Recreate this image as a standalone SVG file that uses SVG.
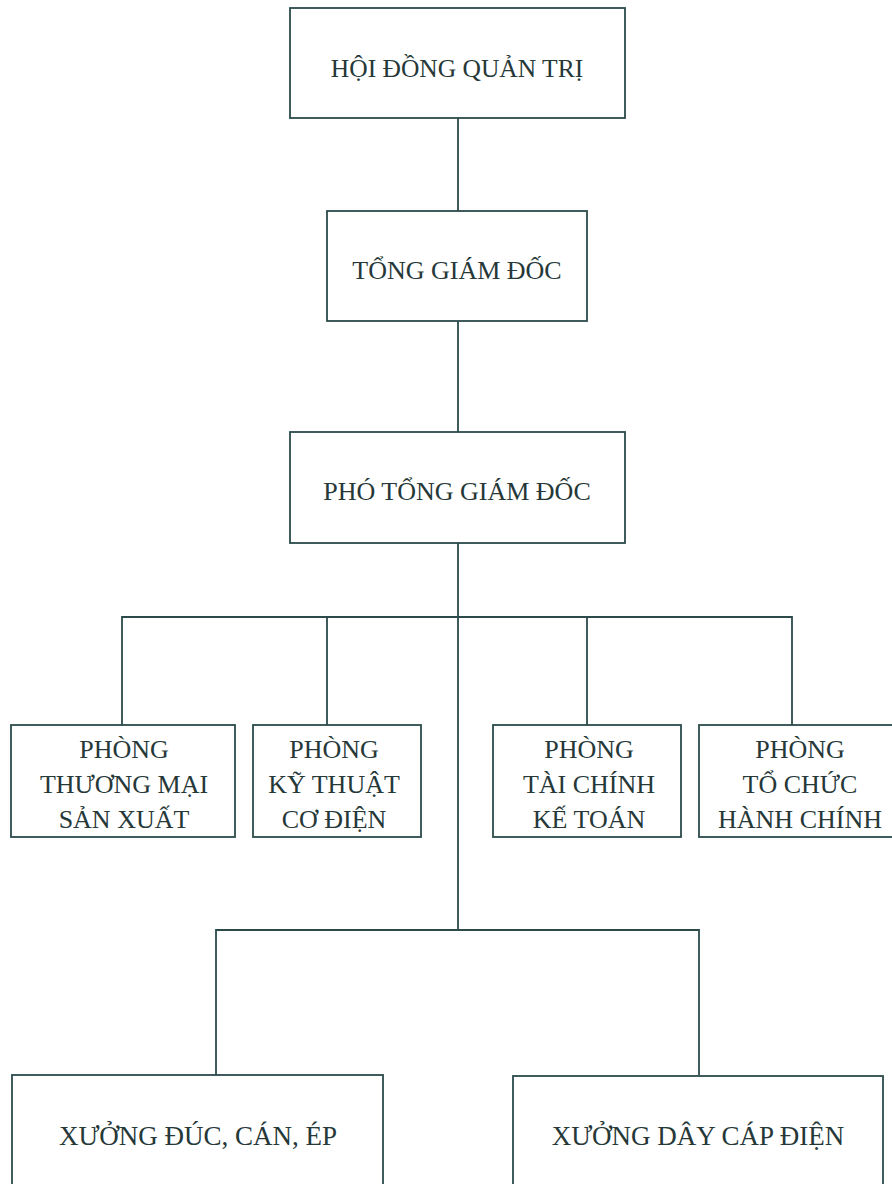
<svg xmlns="http://www.w3.org/2000/svg" width="892" height="1184" viewBox="0 0 892 1184">
<style>
.box{fill:#ffffff;stroke:#2c4a4a;stroke-width:1.8}
.ln{fill:none;stroke:#2c4a4a;stroke-width:1.8}
text{font-family:"Liberation Serif","Times New Roman",serif;font-size:26px;fill:#263838;text-anchor:middle}
text.big{font-size:27px}
text.top{font-size:25.5px}
</style>
<rect width="892" height="1184" fill="#ffffff"/>
<g id="connectors">
<path class="ln" d="M458 118V211M458 321V432M458 543V930"/>
<path class="ln" d="M122 725V617H792V725M327 617V725M587 617V725"/>
<path class="ln" d="M216 1075V930H699V1075"/>
</g>
<g id="hdqt"><rect class="box" x="290" y="8" width="335" height="110"/><text class="top" x="457" y="77">HỘI ĐỒNG QUẢN TRỊ</text></g>
<g id="tgd"><rect class="box" x="327" y="211" width="260" height="110"/><text x="457" y="279">TỔNG GIÁM ĐỐC</text></g>
<g id="ptgd"><rect class="box" x="290" y="432" width="335" height="111"/><text x="457" y="500">PHÓ TỔNG GIÁM ĐỐC</text></g>
<g id="p_tmsx"><rect class="box" x="11" y="725" width="224" height="112"/><text x="124" y="758">PHÒNG</text><text x="124" y="793">THƯƠNG MẠI</text><text x="124" y="828">SẢN XUẤT</text></g>
<g id="p_ktcd"><rect class="box" x="253" y="725" width="168" height="112"/><text x="334" y="758">PHÒNG</text><text x="334" y="793">KỸ THUẬT</text><text x="334" y="828">CƠ ĐIỆN</text></g>
<g id="p_tckt"><rect class="box" x="493" y="725" width="188" height="112"/><text x="589" y="758">PHÒNG</text><text x="589" y="793">TÀI CHÍNH</text><text x="589" y="828">KẾ TOÁN</text></g>
<g id="p_tchc"><rect class="box" x="699" y="725" width="204" height="112"/><text x="800" y="758">PHÒNG</text><text x="800" y="793">TỔ CHỨC</text><text x="800" y="828">HÀNH CHÍNH</text></g>
<g id="x_dce"><rect class="box" x="12" y="1075" width="371" height="130"/><text class="big" x="198" y="1145">XƯỞNG ĐÚC, CÁN, ÉP</text></g>
<g id="x_dcd"><rect class="box" x="513" y="1076" width="370" height="130"/><text class="big" x="698" y="1145">XƯỞNG DÂY CÁP ĐIỆN</text></g>
</svg>
